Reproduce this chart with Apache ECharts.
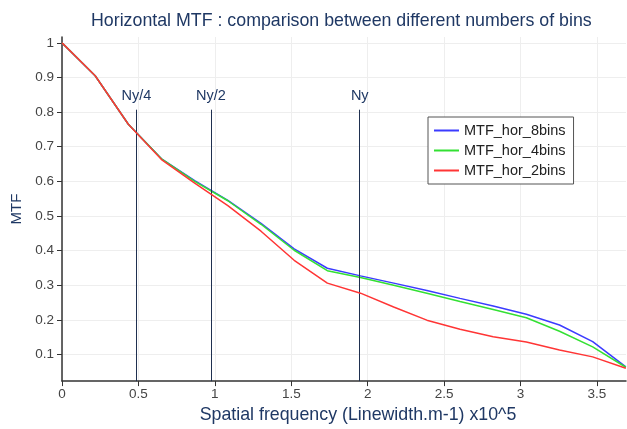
<!DOCTYPE html>
<html>
<head>
<meta charset="utf-8">
<script src="https://cdn.jsdelivr.net/npm/echarts@6/dist/echarts.min.js"></script>
<style>
html,body{margin:0;padding:0;background:#fff;}
#c{width:627px;height:429px;}
</style>
</head>
<body>
<div id="c"></div>
<script>
// Spatial frequency samples (x10^5 linewidth/m)
const freqs = [0, 0.217, 0.434, 0.651, 0.868, 1.085, 1.302, 1.519, 1.736, 1.953, 2.170, 2.387, 2.604, 2.821, 3.038, 3.255, 3.472, 3.689];
const mtf8 = [1.0, 0.905, 0.765, 0.665, 0.602, 0.545, 0.479, 0.405, 0.349, 0.327, 0.306, 0.285, 0.262, 0.240, 0.216, 0.185, 0.137, 0.064];
const mtf4 = [1.0, 0.905, 0.765, 0.665, 0.600, 0.544, 0.476, 0.401, 0.342, 0.322, 0.300, 0.277, 0.253, 0.230, 0.206, 0.167, 0.122, 0.063];
const mtf2 = [1.0, 0.905, 0.765, 0.663, 0.595, 0.530, 0.456, 0.372, 0.306, 0.277, 0.237, 0.199, 0.173, 0.151, 0.136, 0.113, 0.093, 0.060];
const seriesNames = ['MTF_hor_8bins', 'MTF_hor_4bins', 'MTF_hor_2bins'];
const nyPositions = [0.487, 0.974, 1.948];
const nyLabels = ['Ny/4', 'Ny/2', 'Ny'];
const nyLineTop = 0.807;
const xTicks = [0, 0.5, 1, 1.5, 2, 2.5, 3, 3.5];
const yTicks = [0.1, 0.2, 0.3, 0.4, 0.5, 0.6, 0.7, 0.8, 0.9, 1];
const xMin = 0, xMax = 3.69;
const yMin = 0.023, yMax = 1.017;

const navy = '#1f3864';
const colors = ['#3b3bff', '#33e033', '#ff3535'];
const pairs = (ys) => freqs.map((x, i) => [x, ys[i]]);

const chart = echarts.init(document.getElementById('c'), null, {renderer: 'canvas'});
const font = 'Liberation Sans, Arial, sans-serif';

chart.setOption({
  animation: false,
  backgroundColor: '#fff',
  title: {
    text: 'Horizontal MTF : comparison between different numbers of bins',
    left: 86, top: 7,
    textStyle: {fontFamily: font, fontSize: 17.8, fontWeight: 'normal', color: navy}
  },
  grid: {left: 62, right: 1, top: 37, bottom: 42, containLabel: false},
  legend: {
    orient: 'vertical',
    left: 428, top: 117,
    backgroundColor: '#fff',
    borderColor: '#555', borderWidth: 1,
    padding: [6, 8, 6, 6],
    itemGap: 5,
    itemWidth: 25, itemHeight: 2,
    icon: 'rect',
    textStyle: {fontFamily: font, fontSize: 14.5, color: '#222'},
    data: seriesNames
  },
  xAxis: {
    type: 'value', min: xMin, max: xMax,
    name: 'Spatial frequency (Linewidth.m-1) x10^5',
    nameLocation: 'middle', nameGap: 15,
    nameTextStyle: {fontFamily: font, fontSize: 17.8, color: navy, padding: [0, 0, 0, 28]},
    axisLine: {onZero: false, lineStyle: {color: '#333', width: 1.5}},
    axisTick: {show: true, length: 5, customValues: xTicks, lineStyle: {color: '#333'}},
    axisLabel: {customValues: xTicks, fontFamily: font, fontSize: 13.5, color: '#444', margin: 6},
    splitLine: {show: true, lineStyle: {color: '#eeeeee'}}
  },
  yAxis: {
    type: 'value', min: yMin, max: yMax,
    name: 'MTF',
    nameLocation: 'middle', nameGap: 32,
    nameTextStyle: {fontFamily: font, fontSize: 15, color: navy, padding: [0, 0, 6, 0]},
    axisLine: {show: true, onZero: false, lineStyle: {color: '#333', width: 1.5}},
    axisTick: {show: true, length: 5, customValues: yTicks, lineStyle: {color: '#333'}},
    axisLabel: {customValues: yTicks, fontFamily: font, fontSize: 13.5, color: '#444', margin: 8},
    splitLine: {show: true, lineStyle: {color: '#eeeeee'}}
  },
  series: [
    {
      name: seriesNames[0], type: 'line', data: pairs(mtf8), showSymbol: false,
      lineStyle: {color: colors[0], width: 1.5}, itemStyle: {color: colors[0]}, z: 3,
      markLine: {
        silent: true, symbol: 'none', animation: false,
        lineStyle: {color: '#1f3050', type: 'solid', width: 1},
        label: {show: true, position: 'end', distance: 6, formatter: '{b}',
                fontFamily: font, fontSize: 14.5, color: navy},
        data: nyPositions.map((x, i) => [
          {coord: [x, yMin], name: nyLabels[i]},
          {coord: [x, nyLineTop]}
        ])
      }
    },
    {
      name: seriesNames[1], type: 'line', data: pairs(mtf4), showSymbol: false,
      lineStyle: {color: colors[1], width: 1.5}, itemStyle: {color: colors[1]}, z: 4
    },
    {
      name: seriesNames[2], type: 'line', data: pairs(mtf2), showSymbol: false,
      lineStyle: {color: colors[2], width: 1.5}, itemStyle: {color: colors[2]}, z: 5
    }
  ]
});
</script>
</body>
</html>
